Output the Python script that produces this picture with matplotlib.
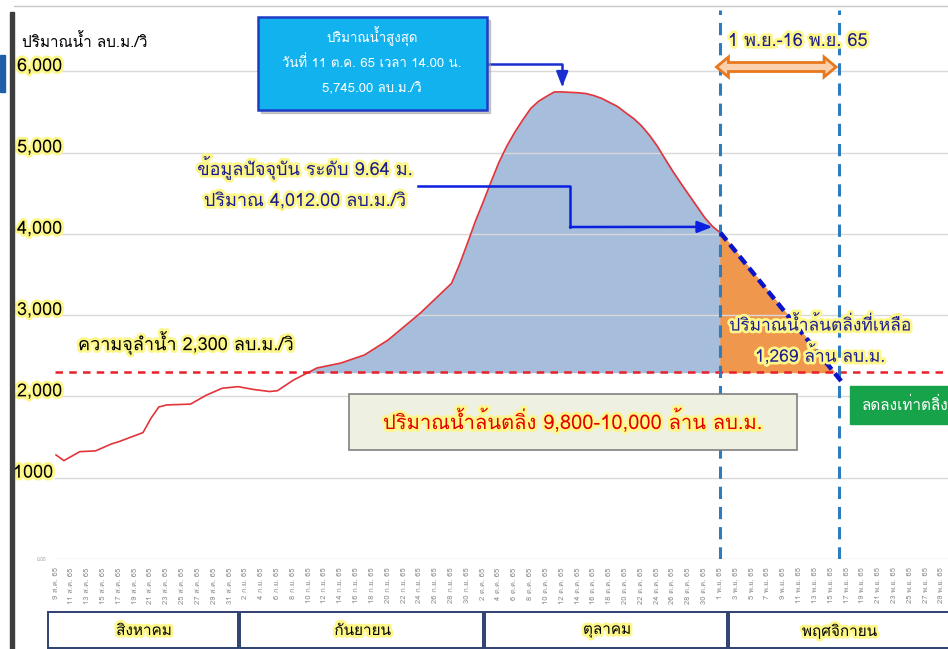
import matplotlib
matplotlib.use('Agg')
import matplotlib.pyplot as plt
import matplotlib.patches as mpatches
import matplotlib.patheffects as pe
from matplotlib.lines import Line2D
from matplotlib.transforms import Affine2D, blended_transform_factory
from matplotlib import font_manager
from matplotlib.ft2font import FT2Font
import numpy as np

# pick fonts that actually have thai glyphs
thai_fonts = []
for f in font_manager.fontManager.ttflist:
    try:
        if ord('ก') in FT2Font(f.fname).get_charmap():
            thai_fonts.append(f.name)
    except Exception:
        pass
plt.rcParams['font.family'] = list(dict.fromkeys(thai_fonts)) + ['DejaVu Sans']

# days counted from 9 ส.ค. 65
days = [0, 1, 3, 5, 7, 8, 11, 12, 13, 14, 17, 19, 21, 23, 25, 27, 28, 30, 33, 36,
        39, 42, 46, 50, 51, 52, 53, 54, 55, 56, 57, 58, 59, 60, 61, 62, 63, 64, 65,
        66, 67, 68, 69, 70, 71, 72, 73, 74, 75, 76, 77, 78, 79, 80, 81, 82, 83, 84]
flow = [1280, 1210, 1320, 1330, 1415, 1445, 1555, 1730, 1870, 1895, 1905, 2015, 2100,
        2120, 2085, 2060, 2070, 2200, 2350, 2410, 2510, 2695, 3020, 3390, 3620, 3880,
        4150, 4390, 4640, 4880, 5080, 5250, 5400, 5540, 5630, 5690, 5745, 5745, 5740,
        5735, 5725, 5700, 5665, 5615, 5565, 5490, 5420, 5330, 5215, 5080, 4920, 4765,
        4620, 4480, 4340, 4200, 4090, 4012]

# forecast down to bank level
proj_days = [84, 99.5]
proj_flow = [4012, 2160]

capacity = 2300
window = [84, 99]          # 1 พ.ย. - 16 พ.ย.
peak_day, peak_flow = 64, 5745

aug = [f'{d} ส.ค. 65' for d in range(9, 32, 2)]
sep = [f'{d} ก.ย. 65' for d in range(2, 31, 2)]
octo = [f'{d} ต.ค. 65' for d in range(2, 31, 2)]
nov = [f'{d} พ.ย. 65' for d in range(1, 30, 2)]
tick_labels = aug + sep + octo + nov
tick_days = list(range(0, 2 * len(tick_labels), 2))

months = ['สิงหาคม', 'กันยายน', 'ตุลาคม', 'พฤศจิกายน']
y_labels = ['1000', '2,000', '3,000', '4,000', '5,000', '6,000']

W, H, DPI = 948, 649, 100
fig = plt.figure(figsize=(W / DPI, H / DPI), dpi=DPI)
PX = Affine2D().scale(1 / DPI, -1 / DPI).translate(0, H / DPI) + fig.dpi_scale_trans

X0, DX = 56, 7.91          # pixel of day 0, pixels per day
Y0, DY = 559, 0.0813       # pixel of 0, pixels per unit
AL, AR, AT = 55, 948, 10
ax = fig.add_axes([AL / W, (H - Y0) / H, (AR - AL) / W, (Y0 - AT) / H])
ax.set_xlim((AL - X0) / DX, (AR - X0) / DX)
ax.set_ylim(0, (Y0 - AT) / DY)
for s in ax.spines.values():
    s.set_visible(False)

GLOW = [pe.withStroke(linewidth=4, foreground='#fdf78a')]

for v in range(0, 7000, 1000):
    ax.axhline(v, color='#d9d9d9', lw=1, zorder=1.5)

d = np.array(days, float)
f = np.array(flow, float)
ax.fill_between(d, f, capacity, where=f >= capacity, interpolate=True,
                color='#a6bddb', zorder=1)
ax.plot(d, f, color='#e3343a', lw=1.2, zorder=3)

pd_, pf = np.array(proj_days), np.array(proj_flow, float)
ax.fill_between(pd_, pf, capacity, where=pf >= capacity, interpolate=True,
                color='#f0974e', zorder=1)
ax.plot(pd_, pf, color='#0a14c8', lw=3.2, ls=(0, (2.2, 1.2)), zorder=4)

ax.axhline(capacity, color='#e8202a', lw=1.8, ls=(0, (3, 2.5)), zorder=3)
for x in window:
    ax.axvline(x, color='#2e7cc0', lw=2.2, ls=(0, (4, 2.6)), zorder=3)

ax.set_xticks(tick_days)
ax.set_xticklabels(tick_labels, rotation=90, fontsize=5.5, color='#8c8c8c')
# only the 0.00 label of the original axis is left uncovered
ax.set_yticks([0])
ax.set_yticklabels(['0.00'], fontsize=3.5, color='#a0a0a0')
ax.tick_params(length=0, pad=6)

# big y labels
bt = blended_transform_factory(PX, ax.transData)
for i, lab in enumerate(y_labels):
    x = 13 if lab == '1000' else 17
    ax.text(x, (i + 1) * 1000, lab, transform=bt, fontsize=13, va='baseline',
            ha='left', path_effects=GLOW, zorder=6, clip_on=False)

fig.text(22, 42, 'ปริมาณน้ำ ลบ.ม./วิ', transform=PX, fontsize=11, va='center')

fig.text(78, 343, f'ความจุลำน้ำ {capacity:,} ลบ.ม./วิ', transform=PX,
         fontsize=13, va='center', path_effects=GLOW)

# peak box
fig.patches.append(mpatches.Rectangle((261, 20), 229, 93, transform=PX,
                                      color='#9a9a9a', alpha=0.5, zorder=1))
fig.patches.append(mpatches.Rectangle((258, 17), 229, 93, transform=PX,
                                      facecolor='#12b2ee', edgecolor='#1f3cc4', lw=1.8,
                                      zorder=2))
for yy, s in zip([37, 63, 89], ['ปริมาณน้ำสูงสุด', 'วันที่ 11 ต.ค. 65 เวลา 14.00 น.',
                                f'{peak_flow:,.2f} ลบ.ม./วิ']):
    fig.text(372, yy, s, transform=PX, fontsize=9.5, color='white', ha='center',
             va='center', zorder=3)
ax.annotate('', xy=(peak_day, peak_flow + 60), xycoords='data',
            xytext=(487, H - 64), textcoords='figure pixels',
            arrowprops=dict(arrowstyle='-|>,head_width=0.35,head_length=0.9',
                            connectionstyle='angle,angleA=0,angleB=90,rad=0',
                            color='#1a2fd0', lw=1.8, shrinkA=0, shrinkB=0), zorder=6)

# current data
fig.text(305, 168, 'ข้อมูลปัจจุบัน ระดับ 9.64 ม.', transform=PX, fontsize=13,
         color='#1c1c8f', ha='center', va='center', path_effects=GLOW)
fig.text(305, 201, 'ปริมาณ 4,012.00 ลบ.ม./วิ', transform=PX, fontsize=13,
         color='#1c1c8f', ha='center', va='center', path_effects=GLOW)
fig.lines.append(Line2D([418, 570, 570], [186, 186, 227], transform=PX,
                        color='#0b1fe0', lw=1.8))
ax.annotate('', xy=(83, 4085), xycoords='data', xytext=(570, H - 227),
            textcoords='figure pixels',
            arrowprops=dict(arrowstyle='-|>,head_width=0.35,head_length=0.9',
                            color='#0b1fe0', lw=1.8, shrinkA=0, shrinkB=0), zorder=6)

# window arrow
x1 = X0 + window[0] * DX - 4
x2 = X0 + window[1] * DX - 3
yc, sh, hh, hl = 67, 4.5, 10, 12
verts = [(x1, yc), (x1 + hl, yc - hh), (x1 + hl, yc - sh), (x2 - hl, yc - sh),
         (x2 - hl, yc - hh), (x2, yc), (x2 - hl, yc + hh), (x2 - hl, yc + sh),
         (x1 + hl, yc + sh), (x1 + hl, yc + hh)]
fig.patches.append(mpatches.Polygon(verts, closed=True, transform=PX,
                                    facecolor='#fbd0ad', edgecolor='#e8781e', lw=2,
                                    zorder=5))
fig.text(728, 41, '1 พ.ย.-16 พ.ย. 65', transform=PX, fontsize=13, color='#1c1c8f',
         va='center', path_effects=GLOW)

fig.text(820, 325, 'ปริมาณน้ำล้นตลิ่งที่เหลือ', transform=PX, fontsize=12.5,
         color='#1c1c8f', ha='center', va='center', path_effects=GLOW)
fig.text(820, 355, '1,269 ล้าน ลบ.ม.', transform=PX, fontsize=12.5,
         color='#1c1c8f', ha='center', va='center', path_effects=GLOW)

# total box
fig.patches.append(mpatches.Rectangle((349, 394), 448, 56, transform=PX,
                                      facecolor='#eef1e2', edgecolor='#808080', lw=1.2))
fig.text(573, 421, 'ปริมาณน้ำล้นตลิ่ง 9,800-10,000 ล้าน ลบ.ม.', transform=PX,
         fontsize=14.5, color='#e30000', ha='center', va='center', path_effects=GLOW)

# green box, cut at the edge
fig.patches.append(mpatches.Rectangle((850, 386), 140, 38, transform=PX,
                                      facecolor='#16a34a', edgecolor='#16a34a'))
fig.text(862, 405, 'ลดลงเท่าตลิ่ง', transform=PX, fontsize=11, color='white',
         va='center')

# month boxes
edges = [48, 240, 485, 729, 990]
for i, m in enumerate(months):
    fig.patches.append(mpatches.Rectangle((edges[i], 612), edges[i + 1] - edges[i] - 2,
                                          36, transform=PX, facecolor='white',
                                          edgecolor='#2f3f70', lw=1.4))
    fig.text((edges[i] + min(edges[i + 1], 1040)) / 2 - (20 if i == 3 else 0), 631, m,
             transform=PX, fontsize=11, ha='center', va='center', path_effects=GLOW)

# screenshot frame bits
fig.patches.append(mpatches.Rectangle((10, 12), 4, 640, transform=PX, color='#3d3d3d'))
fig.patches.append(mpatches.Rectangle((0, 55), 5, 37, transform=PX, color='#1f5fa8'))
fig.lines.append(Line2D([14, 948], [6, 6], transform=PX, color='#c8c8c8', lw=1))

fig.savefig('out.png', dpi=DPI)
